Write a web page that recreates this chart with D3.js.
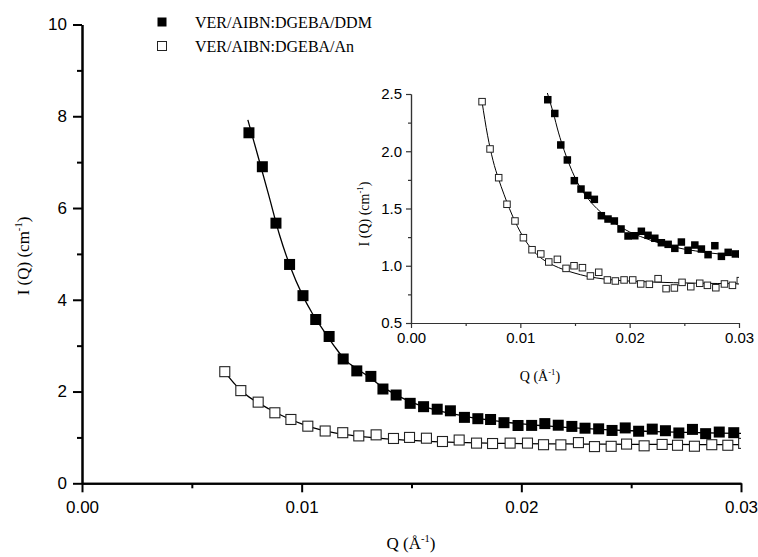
<!DOCTYPE html>
<html>
<head>
<meta charset="utf-8">
<script src="https://cdn.jsdelivr.net/npm/d3@7"></script>
<style>
  body { margin: 0; background: #fff; }
  svg { display: block; }
</style>
</head>
<body>
<svg id="chart" width="758" height="557"></svg>
<script>
// ---- data ----
const seriesNames = ["VER/AIBN:DGEBA/DDM", "VER/AIBN:DGEBA/An"];

const qDDM = [0.00760, 0.00821, 0.00883, 0.00945, 0.01006, 0.01064, 0.01125, 0.01189,
  0.01251, 0.01315, 0.01370, 0.01430, 0.01494, 0.01555, 0.01617, 0.01677, 0.01741,
  0.01802, 0.01860, 0.01921, 0.01985, 0.02047, 0.02107, 0.02168, 0.02230, 0.02290,
  0.02352, 0.02413, 0.02473, 0.02534, 0.02596, 0.02656, 0.02717, 0.02779, 0.02839,
  0.02901, 0.02967, 0.03029];
const iDDM = [7.64, 6.90, 5.67, 4.77, 4.09, 3.57, 3.20, 2.71,
  2.45, 2.33, 2.055, 1.924, 1.743, 1.670, 1.615, 1.580, 1.437,
  1.408, 1.391, 1.321, 1.260, 1.262, 1.301, 1.266, 1.240, 1.201,
  1.187, 1.152, 1.207, 1.135, 1.181, 1.146, 1.097, 1.175, 1.082,
  1.117, 1.103, 1.10];

const qAn = [0.00650, 0.00723, 0.00802, 0.00878, 0.00951, 0.01028, 0.01107, 0.01187,
  0.01260, 0.01339, 0.01418, 0.01491, 0.01568, 0.01641, 0.01717, 0.01796, 0.01869,
  0.01949, 0.02028, 0.02101, 0.02180, 0.02260, 0.02333, 0.02409, 0.02479, 0.02559,
  0.02641, 0.02711, 0.02788, 0.02867, 0.02940, 0.03012];
const iAn = [2.433, 2.020, 1.769, 1.537, 1.391, 1.245, 1.140, 1.103,
  1.033, 1.056, 0.977, 1.000, 0.983, 0.911, 0.943, 0.876, 0.867,
  0.876, 0.876, 0.841, 0.838, 0.887, 0.800, 0.806, 0.855, 0.817,
  0.847, 0.829, 0.808, 0.841, 0.829, 0.87];

// fitted curves
const fitQDDM = [0.00755, 0.0080, 0.0085, 0.0090, 0.0095, 0.0100, 0.0105, 0.0110, 0.0115,
  0.0120, 0.0125, 0.0130, 0.0135, 0.0140, 0.0145, 0.0150, 0.0155, 0.0160, 0.0165,
  0.0170, 0.0175, 0.0180, 0.0185, 0.0190, 0.0195, 0.0200, 0.0210, 0.0220, 0.0230,
  0.0240, 0.0250, 0.0260, 0.0270, 0.0280, 0.0290, 0.0300];
const fitIDDM = [7.92, 7.15, 6.28, 5.40, 4.70, 4.14, 3.69, 3.33, 2.98,
  2.68, 2.50, 2.34, 2.16, 2.01, 1.88, 1.77, 1.68, 1.61, 1.55,
  1.50, 1.455, 1.415, 1.38, 1.35, 1.32, 1.295, 1.255, 1.22, 1.19,
  1.165, 1.145, 1.13, 1.115, 1.105, 1.095, 1.09];

const fitQAn = [0.0065, 0.0070, 0.0075, 0.0080, 0.0085, 0.0090, 0.0095, 0.0100, 0.0105,
  0.0110, 0.0115, 0.0120, 0.0125, 0.0130, 0.0140, 0.0150, 0.0160, 0.0170, 0.0180,
  0.0190, 0.0200, 0.0220, 0.0240, 0.0260, 0.0280, 0.0300];
const fitIAn = [2.43, 2.14, 1.92, 1.76, 1.625, 1.50, 1.39, 1.295, 1.215,
  1.15, 1.10, 1.06, 1.03, 1.005, 0.965, 0.935, 0.91, 0.893, 0.88,
  0.872, 0.866, 0.858, 0.852, 0.848, 0.845, 0.843];

const xTicks = [0, 0.01, 0.02, 0.03];
const xMinor = [0.005, 0.015, 0.025];
const yTicksMain = [0, 2, 4, 6, 8, 10];
const yMinorMain = [1, 3, 5, 7, 9];
const yTicksInset = [0.5, 1.0, 1.5, 2.0, 2.5];
const yMinorInset = [0.75, 1.25, 1.75, 2.25];

const zip = (a, b) => a.map((v, i) => [v, b[i]]);
const ddm = zip(qDDM, iDDM), an = zip(qAn, iAn);
const fitDDM = zip(fitQDDM, fitIDDM), fitAn = zip(fitQAn, fitIAn);

const svg = d3.select("#chart");
const sans = "'Liberation Sans', Arial, sans-serif";
const serif = "'Liberation Serif', 'Times New Roman', serif";

function drawPanel(cfg) {
  const x = d3.scaleLinear().domain([0, 0.03]).range(cfg.xr);
  const y = d3.scaleLinear().domain(cfg.yd).range(cfg.yr);
  const g = svg.append("g");

  const clipId = "clip-" + cfg.id;
  svg.append("clipPath").attr("id", clipId).append("rect")
    .attr("x", cfg.xr[0]).attr("y", cfg.yr[1] - 1)
    .attr("width", cfg.xr[1] - cfg.xr[0]).attr("height", cfg.yr[0] - cfg.yr[1] + 1);

  const plot = g.append("g").attr("clip-path", `url(#${clipId})`);
  const line = d3.line().x(d => x(d[0])).y(d => y(d[1])).curve(d3.curveMonotoneX);

  [fitDDM, fitAn].forEach(f => {
    plot.append("path").datum(f)
      .attr("d", line)
      .attr("fill", "none")
      .attr("stroke", "#000")
      .attr("stroke-width", cfg.lw);
  });

  const s = cfg.ms;
  plot.selectAll("rect.an").data(an).join("rect")
    .attr("class", "an")
    .attr("x", d => x(d[0]) - s / 2).attr("y", d => y(d[1]) - s / 2)
    .attr("width", s).attr("height", s)
    .attr("fill", "#fff").attr("stroke", "#222").attr("stroke-width", cfg.ow);
  plot.selectAll("rect.ddm").data(ddm).join("rect")
    .attr("class", "ddm")
    .attr("x", d => x(d[0]) - s / 2 - 0.5).attr("y", d => y(d[1]) - s / 2 - 0.5)
    .attr("width", s + 1).attr("height", s + 1)
    .attr("fill", "#000");

  // axes
  const xAx = g.append("g").attr("transform", `translate(0,${cfg.yr[0]})`)
    .call(d3.axisBottom(x).tickValues(xTicks).tickFormat(d3.format(".2f"))
      .tickSize(cfg.tk).tickSizeOuter(0).tickPadding(cfg.tpx));
  const xMin = g.append("g").attr("transform", `translate(0,${cfg.yr[0]})`)
    .call(d3.axisBottom(x).tickValues(xMinor).tickFormat("").tickSize(cfg.tkm).tickSizeOuter(0));
  const yAx = g.append("g").attr("transform", `translate(${cfg.xr[0]},0)`)
    .call(d3.axisLeft(y).tickValues(cfg.yt).tickFormat(cfg.yf)
      .tickSize(cfg.tk).tickSizeOuter(0).tickPadding(cfg.tp));
  const yMin = g.append("g").attr("transform", `translate(${cfg.xr[0]},0)`)
    .call(d3.axisLeft(y).tickValues(cfg.ym).tickFormat("").tickSize(cfg.tkm).tickSizeOuter(0));

  [xAx, xMin, yAx, yMin].forEach(a => {
    a.select(".domain").attr("stroke", cfg.ac).attr("stroke-width", cfg.aw);
    a.selectAll(".tick line").attr("stroke", cfg.ac).attr("stroke-width", cfg.aw);
    a.selectAll(".tick text").attr("fill", "#000")
      .style("font-family", sans).style("font-size", cfg.fs + "px");
  });
  return { x, y };
}

// main panel
drawPanel({
  id: "main", xr: [82, 741], yr: [483.3, 24.5], yd: [0, 10],
  yt: yTicksMain, ym: yMinorMain, yf: d3.format("d"),
  lw: 1.3, ms: 10, ow: 1.1, tk: 9, tkm: 5, tp: 6, tpx: 9, aw: 2, ac: "#000", fs: 17
});

// inset panel
drawPanel({
  id: "inset", xr: [411, 739], yr: [323, 94], yd: [0.5, 2.5],
  yt: yTicksInset, ym: yMinorInset, yf: d3.format(".1f"),
  lw: 1, ms: 6.5, ow: 1, tk: 5, tkm: 3, tp: 4, tpx: 4, aw: 1.2, ac: "#333", fs: 15
});

// axis titles
function title(sel, base, sup, close, size) {
  sel.style("font-family", serif).style("font-size", size + "px").attr("fill", "#000");
  sel.append("tspan").text(base);
  sel.append("tspan").attr("dy", -size * 0.4).style("font-size", (size * 0.62) + "px").text(sup);
  sel.append("tspan").attr("dy", size * 0.4).text(close);
}
title(svg.append("text").attr("x", 411).attr("y", 549).attr("text-anchor", "middle"),
  "Q (Å", "-1", ")", 17);
title(svg.append("text").attr("transform", "translate(29,256) rotate(-90)").attr("text-anchor", "middle"),
  "I (Q) (cm", "-1", ")", 17);
title(svg.append("text").attr("x", 540).attr("y", 381).attr("text-anchor", "middle"),
  "Q (Å", "-1", ")", 14);
title(svg.append("text").attr("transform", "translate(369,214) rotate(-90)").attr("text-anchor", "middle"),
  "I (Q) (cm", "-1", ")", 14);

// legend
const legend = svg.append("g");
seriesNames.forEach((name, i) => {
  const row = legend.append("g").attr("transform", `translate(162,${22 + i * 24})`);
  row.append("rect").attr("x", -4.5).attr("y", -4.5).attr("width", 9).attr("height", 9)
    .attr("fill", i === 0 ? "#000" : "#fff")
    .attr("stroke", i === 0 ? "none" : "#222").attr("stroke-width", 1);
  row.append("text").attr("x", 33).attr("y", 6)
    .style("font-family", serif).style("font-size", "16px").text(name);
});
</script>
</body>
</html>
